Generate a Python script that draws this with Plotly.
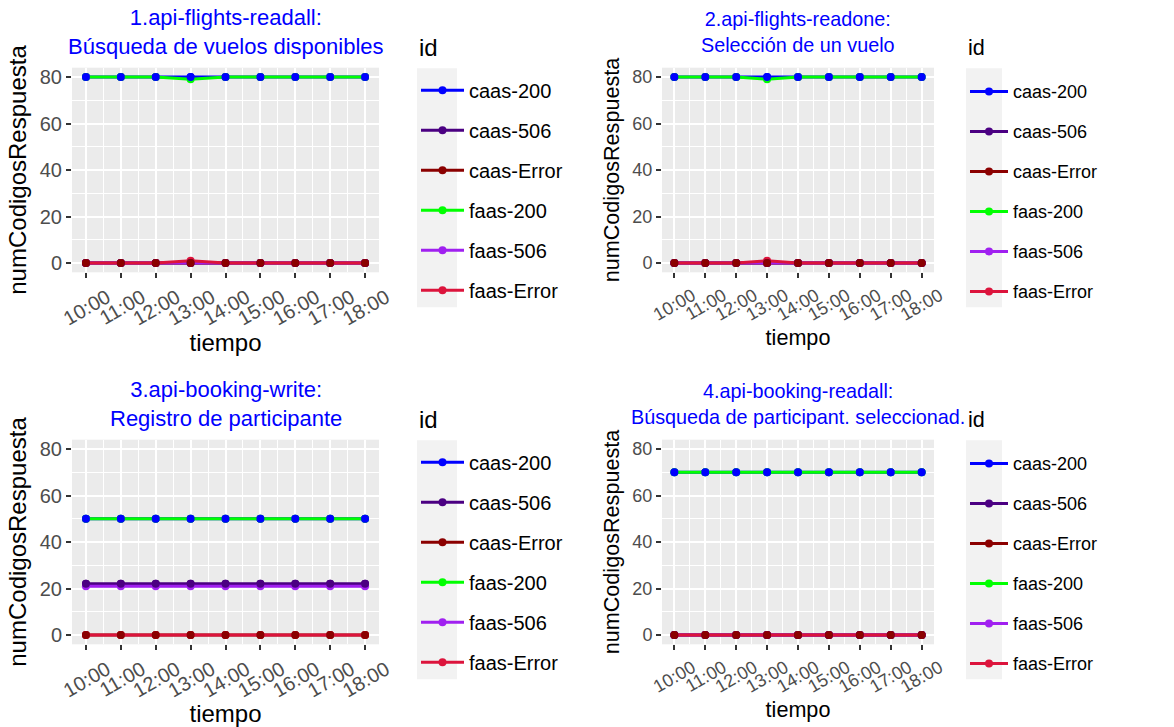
import plotly.graph_objects as go

# Hours of the test window (x) and their labels
horas = [10, 11, 12, 13, 14, 15, 16, 17, 18]
etiquetas_horas = ["10:00", "11:00", "12:00", "13:00", "14:00", "15:00", "16:00", "17:00", "18:00"]

series_ids = ["caas-200", "caas-506", "caas-Error", "faas-200", "faas-506", "faas-Error"]
colores = {
    "caas-200": "#0000FF",
    "caas-506": "#4B0082",
    "caas-Error": "#8B0000",
    "faas-200": "#00FF00",
    "faas-506": "#A020F0",
    "faas-Error": "#DC143C",
}

titulos = [
    "1.api-flights-readall:<br>Búsqueda de vuelos disponibles",
    "2.api-flights-readone:<br>Selección de un vuelo",
    "3.api-booking-write:<br>Registro de participante",
    "4.api-booking-readall:<br>Búsqueda de participant. seleccionad.",
]

# Response-code counts per endpoint and series
readall_vuelos = {
    "caas-200":   [80, 80, 80, 80, 80, 80, 80, 80, 80],
    "caas-506":   [0, 0, 0, 0, 0, 0, 0, 0, 0],
    "caas-Error": [0, 0, 0, 0, 0, 0, 0, 0, 0],
    "faas-200":   [80, 80, 80, 79, 80, 80, 80, 80, 80],
    "faas-506":   [0, 0, 0, 0, 0, 0, 0, 0, 0],
    "faas-Error": [0, 0, 0, 1, 0, 0, 0, 0, 0],
}
readone_vuelo = {
    "caas-200":   [80, 80, 80, 80, 80, 80, 80, 80, 80],
    "caas-506":   [0, 0, 0, 0, 0, 0, 0, 0, 0],
    "caas-Error": [0, 0, 0, 0, 0, 0, 0, 0, 0],
    "faas-200":   [80, 80, 80, 79, 80, 80, 80, 80, 80],
    "faas-506":   [0, 0, 0, 0, 0, 0, 0, 0, 0],
    "faas-Error": [0, 0, 0, 1, 0, 0, 0, 0, 0],
}
write_booking = {
    "caas-200":   [50, 50, 50, 50, 50, 50, 50, 50, 50],
    "caas-506":   [22, 22, 22, 22, 22, 22, 22, 22, 22],
    "caas-Error": [0, 0, 0, 0, 0, 0, 0, 0, 0],
    "faas-200":   [50, 50, 50, 50, 50, 50, 50, 50, 50],
    "faas-506":   [21, 21, 21, 21, 21, 21, 21, 21, 21],
    "faas-Error": [0, 0, 0, 0, 0, 0, 0, 0, 0],
}
readall_booking = {
    "caas-200":   [70, 70, 70, 70, 70, 70, 70, 70, 70],
    "caas-506":   [0, 0, 0, 0, 0, 0, 0, 0, 0],
    "caas-Error": [0, 0, 0, 0, 0, 0, 0, 0, 0],
    "faas-200":   [70, 70, 70, 70, 70, 70, 70, 70, 70],
    "faas-506":   [0, 0, 0, 0, 0, 0, 0, 0, 0],
    "faas-Error": [0, 0, 0, 0, 0, 0, 0, 0, 0],
}
paneles = [readall_vuelos, readone_vuelo, write_booking, readall_booking]

W, H = 1174, 727
FONT = "Liberation Sans, Arial, sans-serif"

def px_x(v):
    return v / W

def px_y(v):
    return 1 - v / H

# panel geometry in pixels: plot box, legend left edge/offset, font scale, x-title standoff
geo = [
    dict(l=72, r=379, t=67.7, b=272.3, leg=416, legdy=3.0, s=1.0, xst=0),
    dict(l=662, r=934, t=67.7, b=272.3, leg=965, legdy=5.5, s=0.9, xst=6),
    dict(l=72, r=379, t=439.7, b=644.3, leg=416, legdy=3.0, s=1.0, xst=0),
    dict(l=662, r=934, t=439.7, b=644.3, leg=965, legdy=5.5, s=0.9, xst=6),
]

fig = go.Figure()
layout = dict(
    width=W, height=H, margin=dict(l=0, r=0, t=0, b=0),
    paper_bgcolor="white", plot_bgcolor="#EBEBEB",
    font=dict(family=FONT, color="black"),
    showlegend=True, annotations=[], shapes=[],
)

for i, (datos, g) in enumerate(zip(paneles, geo)):
    k = "" if i == 0 else str(i + 1)
    xa, ya = "x" + k, "y" + k
    leg = "legend" + k
    s = g["s"]
    # lines (with legend entries)
    for sid in series_ids:
        fig.add_trace(go.Scatter(
            x=horas, y=datos[sid], name=sid, mode="lines+markers",
            line=dict(color=colores[sid], width=3),
            marker=dict(color=colores[sid], size=8),
            xaxis=xa, yaxis=ya, legend=leg, legendgroup=sid + k,
        ))
    # caas points drawn on top
    for sid in series_ids[:3]:
        fig.add_trace(go.Scatter(
            x=horas, y=datos[sid], name=sid, mode="markers",
            marker=dict(color=colores[sid], size=8),
            xaxis=xa, yaxis=ya, legend=leg, legendgroup=sid + k,
            showlegend=False, hoverinfo="skip",
        ))

    fs = 20 * s
    layout["xaxis" + k] = dict(
        domain=[px_x(g["l"]), px_x(g["r"])], anchor=ya,
        range=[9.6, 18.4], tickmode="array", tickvals=horas, ticktext=etiquetas_horas,
        tickangle=-30, ticklabelshift=int(21 * s),
        tickfont=dict(size=fs, color="#4D4D4D"),
        ticks="outside", ticklen=5, tickwidth=1.5, tickcolor="#333333",
        showgrid=True, gridcolor="white", gridwidth=2, zeroline=False,
        minor=dict(dtick=0.5, tick0=9.5, showgrid=True, gridcolor="white", gridwidth=1),
        title=dict(text="tiempo", font=dict(size=24 * s, color="black"), standoff=g["xst"]),
        automargin=False, fixedrange=True,
    )
    layout["yaxis" + k] = dict(
        domain=[px_y(g["b"]), px_y(g["t"])], anchor=xa,
        range=[-4, 84], tickmode="array", tickvals=[0, 20, 40, 60, 80],
        tickfont=dict(size=fs, color="#4D4D4D"),
        ticks="outside", ticklen=5, tickwidth=1.5, tickcolor="#333333",
        showgrid=True, gridcolor="white", gridwidth=2, zeroline=False,
        minor=dict(tickvals=[10, 30, 50, 70], showgrid=True, gridcolor="white", gridwidth=1),
        title=dict(text="numCodigosRespuesta", font=dict(size=24 * s, color="black"), standoff=6),
        automargin=False, fixedrange=True,
    )
    # item height = 1.3*font + 3; the gap makes every row 40 px tall
    gap = 40 - (1.3 * fs + 3)
    layout[leg] = dict(
        x=px_x(g["leg"]), y=px_y(g["t"] + g["legdy"]), xanchor="left", yanchor="top",
        bgcolor="rgba(0,0,0,0)", font=dict(size=fs, color="black"),
        tracegroupgap=gap, itemwidth=43 if s == 1 else 38,
    )
    # legend title
    layout["annotations"].append(dict(
        text="id", xref="paper", yref="paper",
        x=px_x(g["leg"] + 1), y=px_y(g["t"] - 20.5),
        xanchor="left", yanchor="middle", showarrow=False,
        font=dict(size=24 * s, color="black"),
    ))
    # grey key column of the legend
    layout["shapes"].append(dict(
        type="rect", xref="paper", yref="paper", layer="below",
        x0=px_x(g["leg"] + 1), x1=px_x(g["leg"] + 1 + 40 * s),
        y0=px_y(g["t"] + 239.5), y1=px_y(g["t"] + 0.5),
        fillcolor="#F2F2F2", line=dict(width=0),
    ))
    layout["annotations"].append(dict(
        text=titulos[i], xref="paper", yref="paper",
        x=px_x((g["l"] + g["r"]) / 2), y=px_y(g["t"] - 36),
        xanchor="center", yanchor="middle", showarrow=False, align="center",
        font=dict(size=22 * s, color="#0000FF"),
    ))

fig.update_layout(**layout)
fig.write_html("out.html")
